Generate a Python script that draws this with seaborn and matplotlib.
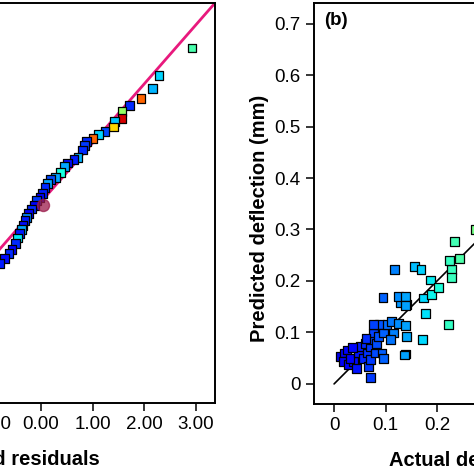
import pandas as pd
import matplotlib
matplotlib.use("Agg")
import matplotlib.pyplot as plt
import seaborn as sns

sns.set_theme(style="white")
plt.rcParams['font.family'] = ['Liberation Sans', 'DejaVu Sans']
plt.rcParams['text.color'] = 'black'
plt.rcParams['axes.labelcolor'] = 'black'

# (a) normal probability plot of residuals (z = normal quantile)
resid = [2.93, 2.29, 2.17, 1.94, 1.71, 1.57, 1.57, 1.43, 1.40, 1.24,
         1.12, 1.01, 0.88, 0.85, 0.80, 0.72, 0.64, 0.52, 0.45, 0.38,
         0.28, 0.18, 0.13, 0.08, 0.03, -0.02, -0.08, -0.13, -0.18, -0.24,
         -0.28, -0.31, -0.35, -0.38, -0.42, -0.46, -0.50, -0.56, -0.62, -0.70,
         -0.80, -0.95, -1.10, -1.30, -1.60, -2.00, -2.60]
normal_z = [2.61, 2.15, 1.93, 1.76, 1.63, 1.53, 1.42, 1.36, 1.27, 1.20,
            1.14, 1.08, 1.02, 0.96, 0.88, 0.76, 0.72, 0.66, 0.60, 0.50,
            0.42, 0.38, 0.31, 0.24, 0.14, 0.08, 0.02, -0.06, -0.12, -0.20,
            -0.27, -0.32, -0.40, -0.47, -0.54, -0.61, -0.71, -0.80, -0.88, -0.96,
            -1.05, -1.20, -1.35, -1.50, -1.80, -2.20, -2.60]
resid_hue = [0.24, 0.17, 0.15, 0.48, 0.06, 0.30, 0.56, 0.16, 0.40, 0.08,
             0.17, 0.48, 0.06, 0.07, 0.06, 0.15, 0.05, 0.04, 0.14, 0.20,
             0.14, 0.08, 0.14, 0.06, 0.05, 0.03, 0.07, 0.02, 0.06, 0.02,
             0.12, 0.05, 0.04, 0.14, 0.05, 0.18, 0.06, 0.03, 0.06, 0.04,
             0.05, 0.06, 0.03, 0.05, 0.04, 0.06, 0.03]
flag_resid = [0.04]
flag_z = [-0.05]
ref_line = [-3.6, 3.4]

# (b) predicted vs actual deflection (mm)
actual = [0.012, 0.021, 0.018, 0.025, 0.028, 0.038, 0.031, 0.044, 0.047, 0.051,
          0.057, 0.060, 0.064, 0.067, 0.070, 0.070, 0.073, 0.076, 0.071, 0.080,
          0.083, 0.086, 0.089, 0.076, 0.096, 0.093, 0.096, 0.103, 0.112, 0.115,
          0.109, 0.125, 0.138, 0.141, 0.138, 0.128, 0.140, 0.095, 0.117, 0.125,
          0.139, 0.138, 0.137, 0.156, 0.169, 0.172, 0.178, 0.174, 0.190, 0.187,
          0.203, 0.222, 0.228, 0.228, 0.243, 0.224, 0.234, 0.274, 0.036, 0.062,
          0.35, 0.42, 0.50, 0.62]
predicted = [0.053, 0.060, 0.043, 0.066, 0.037, 0.043, 0.050, 0.030, 0.060, 0.073,
             0.050, 0.079, 0.060, 0.034, 0.047, 0.073, 0.086, 0.099, 0.013, 0.060,
             0.079, 0.092, 0.115, 0.115, 0.099, 0.060, 0.050, 0.115, 0.121, 0.099,
             0.086, 0.118, 0.113, 0.092, 0.058, 0.157, 0.154, 0.168, 0.223, 0.170,
             0.170, 0.152, 0.056, 0.228, 0.223, 0.087, 0.137, 0.167, 0.173, 0.202,
             0.188, 0.116, 0.223, 0.206, 0.243, 0.240, 0.277, 0.300, 0.070, 0.088,
             0.33, 0.46, 0.52, 0.60]
fit_line = [0.0, 0.7]

xticks_b = [0, 0.1, 0.2, 0.3, 0.4, 0.5, 0.6, 0.7]
xtick_labels_b = ["0", "0.1", "0.2", "0.3", "0.4", "0.5", "0.6", "0.7"]
xticks_a = [-3, -2, -1, 0, 1, 2, 3]

df_a = pd.DataFrame({"resid": resid, "z": normal_z, "val": resid_hue})
df_b = pd.DataFrame({"actual": actual, "predicted": predicted})

W = H = 474
fig = plt.figure(figsize=(4.74, 4.74), dpi=100)


def px_axes(l, t, r, b):
    return fig.add_axes([l / W, 1 - b / H, (r - l) / W, (b - t) / H])


ax1 = px_axes(-140, 3, 215, 403)
ax2 = px_axes(314, 3, 715, 404)

cmap = matplotlib.colormaps["jet"]
hue_norm = (-0.05, 0.61)
mk = dict(marker="s", s=40, edgecolor="black", linewidth=0.9, legend=False)

# panel (a)
ax1.plot(ref_line, ref_line, color="#e8197d", lw=2.0, zorder=1)
sns.scatterplot(data=df_a, x="resid", y="z", hue="val", palette=cmap,
                hue_norm=hue_norm, ax=ax1, zorder=2, **mk)
ax1.scatter(flag_resid, flag_z, s=75, color="#9b1b4b", alpha=0.75, zorder=3)
ax1.set_xlim(-3.51, 3.375)
ax1.set_ylim(-3.41, 3.375)
ax1.set_xticks(xticks_a)
ax1.set_xticklabels([f"{v:.2f}" for v in xticks_a])
ax1.set_yticks([])
ax1.set_ylabel("")
ax1.set_xlabel("Externally studentized residuals", fontsize=14.5,
               fontweight="bold", ha="right")
ax1.xaxis.set_label_coords((100 + 140) / 355, -0.118)

# panel (b)
ax2.plot(fit_line, fit_line, color="black", lw=1.2, zorder=1)
sns.scatterplot(data=df_b, x="actual", y="predicted", hue="actual",
                palette=cmap, hue_norm=hue_norm, ax=ax2, zorder=2, **mk)
ax2.set_xlim(-0.039, 0.74)
ax2.set_ylim(-0.039, 0.74)
ax2.set_xticks(xticks_b)
ax2.set_xticklabels(xtick_labels_b)
ax2.set_yticks(xticks_b)
ax2.set_yticklabels(xtick_labels_b)
ax2.set_xlabel("Actual deflection (mm)", fontsize=14.5, fontweight="bold",
               ha="left")
ax2.xaxis.set_label_coords((389 - 314) / 401, -0.118)
ax2.set_ylabel("Predicted deflection (mm)", fontsize=14.5, fontweight="bold")
ax2.yaxis.set_label_coords(-0.112, 0.464)
ax2.text(0.025, 0.957, "(b)", transform=ax2.transAxes, fontsize=13.5,
         fontweight="bold", ha="left", va="center")

for ax in (ax1, ax2):
    for sp in ax.spines.values():
        sp.set_color("black")
        sp.set_linewidth(1.4)
    ax.tick_params(direction="out", length=6, width=1.1, labelsize=13.5,
                   pad=3.5, colors="black", bottom=True, left=True)
    ax.grid(False)

fig.savefig("out.png", dpi=100)
